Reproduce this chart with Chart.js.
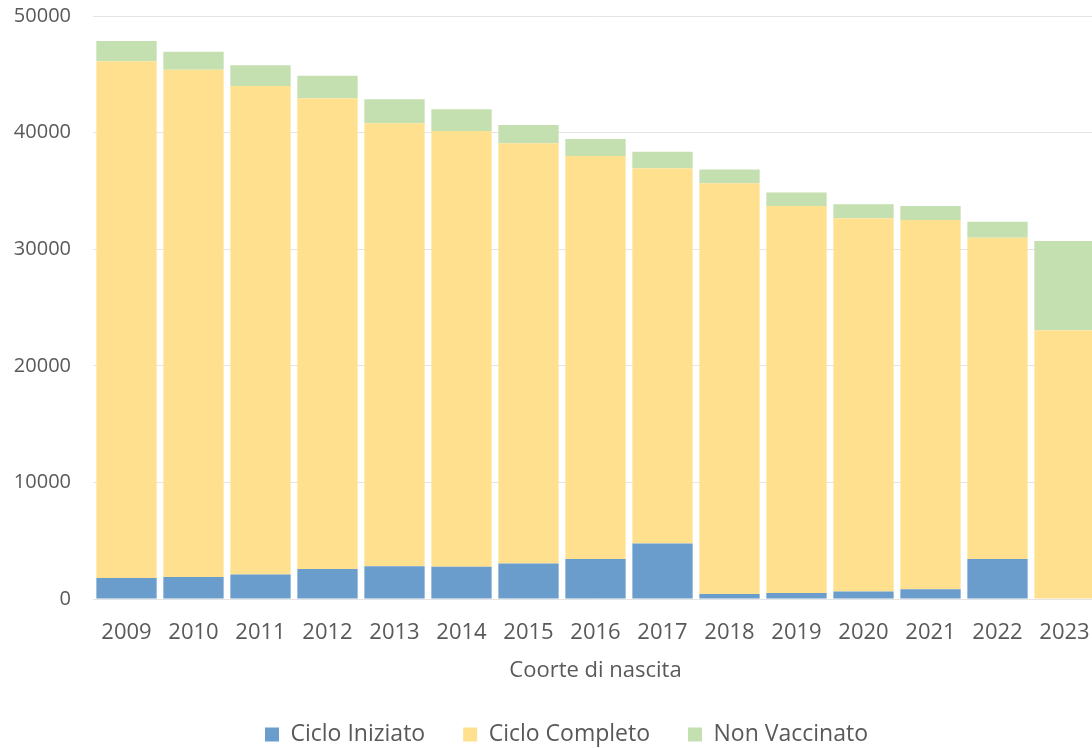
<!DOCTYPE html>
<html>
<head>
<meta charset="utf-8">
<script src="https://cdn.jsdelivr.net/npm/chart.js@4.4.1/dist/chart.umd.min.js"></script>
<style>
  html, body { margin: 0; padding: 0; background: #ffffff; overflow: hidden; }
  #wrap { width: 1098px; height: 756px; }
</style>
</head>
<body>
<div id="wrap"><canvas id="c" width="1098" height="756"></canvas></div>
<script>
const categories = ['2009','2010','2011','2012','2013','2014','2015','2016','2017','2018','2019','2020','2021','2022','2023'];
const cicloIniziato = [1800, 1890, 2100, 2570, 2800, 2760, 3040, 3440, 4760, 430, 520, 640, 830, 3430, 0];
const cicloCompleto = [44310, 43510, 41900, 40370, 38000, 37380, 36040, 34550, 32180, 35220, 33190, 32010, 31670, 27560, 23050];
const nonVaccinato = [1750, 1530, 1770, 1940, 2060, 1860, 1570, 1460, 1420, 1190, 1150, 1200, 1210, 1370, 7650];
const yTicks = [0, 10000, 20000, 30000, 40000, 50000];

const seriesNames = ['Ciclo Iniziato', 'Ciclo Completo', 'Non Vaccinato'];
const seriesColors = ['#6A9DCB', '#FEE08F', '#C4DFB0'];

Chart.defaults.font.family = "'Open Sans', 'DejaVu Sans', sans-serif";
Chart.defaults.color = '#595959';

const legendShift = {
  id: 'legendShift',
  afterLayout(chart) {
    const lg = chart.legend;
    const w = lg.right - lg.left;
    lg.left = 227;
    lg.right = 227 + w;
  }
};

new Chart(document.getElementById('c'), {
  type: 'bar',
  data: {
    labels: categories,
    datasets: [
      { label: seriesNames[0], data: cicloIniziato, backgroundColor: seriesColors[0] },
      { label: seriesNames[1], data: cicloCompleto, backgroundColor: seriesColors[1] },
      { label: seriesNames[2], data: nonVaccinato, backgroundColor: seriesColors[2] }
    ]
  },
  options: {
    responsive: false,
    animation: false,
    devicePixelRatio: 1,
    layout: { padding: 0 },
    datasets: { bar: { barPercentage: 0.9, categoryPercentage: 1.0, borderWidth: 0 } },
    scales: {
      x: {
        stacked: true,
        afterFit(scale) { scale.height = 86; },
        grid: { display: true, color: 'rgba(0,0,0,0)', drawTicks: true, tickLength: 21, tickColor: 'rgba(0,0,0,0)' },
        border: { display: false },
        ticks: { font: { size: 22 }, padding: 0, color: '#595959', maxRotation: 0, autoSkip: false },
        title: { display: true, text: 'Coorte di nascita', font: { size: 22 }, color: '#595959', padding: { top: 4, bottom: 1 } }
      },
      y: {
        stacked: true,
        min: 0,
        max: 50000,
        afterBuildTicks(scale) { scale.ticks = yTicks.map(v => ({ value: v })); },
        afterFit(scale) { scale.width = 93; },
        grid: { color: '#e4e4e4', drawTicks: true, tickLength: 18, tickColor: 'rgba(0,0,0,0)', lineWidth: 1 },
        border: { display: false },
        ticks: { font: { size: 20 }, padding: 4, color: '#595959', callback: (v) => String(v) }
      }
    },
    plugins: {
      legend: {
        position: 'bottom',
        align: 'start',
        labels: { boxWidth: 14, boxHeight: 14, padding: 38, font: { size: 23 }, color: '#595959' }
      },
      tooltip: { enabled: false }
    }
  },
  plugins: [legendShift]
});
</script>
</body>
</html>
